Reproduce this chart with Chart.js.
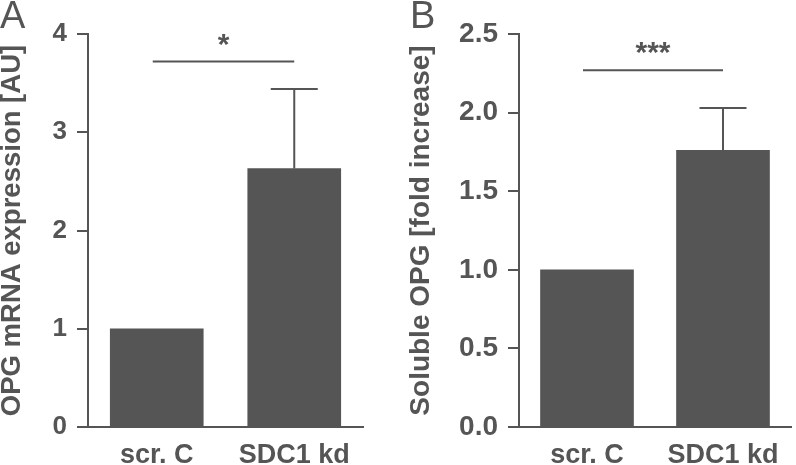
<!DOCTYPE html>
<html>
<head>
<meta charset="utf-8">
<script src="https://cdn.jsdelivr.net/npm/chart.js@4"></script>
<style>
  html, body { margin: 0; padding: 0; background: #fff; }
  #wrap { position: relative; width: 796px; height: 465px; }
  #chartA { position: absolute; left: 0; top: 0; }
  #chartB { position: absolute; left: 400px; top: 0; }
</style>
</head>
<body>
<div id="wrap">
  <canvas id="chartA" width="400" height="465"></canvas>
  <canvas id="chartB" width="396" height="465"></canvas>
</div>
<script>
const categories = ["scr. C", "SDC1 kd"];

// panel A: OPG mRNA
const mrnaMeans = [1.0, 2.63];
const mrnaErrors = [0, 0.81];
const mrnaTicks = [0, 1, 2, 3, 4];
const mrnaSig = { y: 3.72, label: "*" };

// panel B: soluble OPG
const solubleMeans = [1.0, 1.76];
const solubleErrors = [0, 0.27];
const solubleTicks = [0, 0.5, 1.0, 1.5, 2.0, 2.5];
const solubleSig = { y: 2.27, label: "***" };

const ink = "#555555";
const family = "'Liberation Sans', Arial, sans-serif";

const annotations = {
    id: "annotations",
    afterDatasetsDraw(chart, args, opts) {
        const { ctx, scales: { y } } = chart;
        const bars = chart.getDatasetMeta(0).data;
        ctx.save();
        ctx.strokeStyle = ink;
        ctx.fillStyle = ink;
        ctx.lineWidth = 2;

        // error bars (upper only)
        opts.errors.forEach((err, i) => {
            if (!err) return;
            const x = bars[i].x;
            const top = y.getPixelForValue(opts.means[i] + err);
            const base = y.getPixelForValue(opts.means[i]);
            ctx.beginPath();
            ctx.moveTo(x, base);
            ctx.lineTo(x, top);
            ctx.moveTo(x - 23.5, top);
            ctx.lineTo(x + 23.5, top);
            ctx.stroke();
        });

        // significance line + stars
        const sy = y.getPixelForValue(opts.sig.y);
        const x0 = bars[0].x - 4, x1 = bars[1].x;
        ctx.beginPath();
        ctx.moveTo(x0, sy);
        ctx.lineTo(x1, sy);
        ctx.stroke();
        ctx.font = "bold 30px " + family;
        ctx.textAlign = "center";
        ctx.textBaseline = "alphabetic";
        ctx.fillText(opts.sig.label, (x0 + x1) / 2, sy - 8);

        // panel letter
        ctx.font = "38px " + family;
        ctx.textAlign = "left";
        ctx.fillText(opts.letter, opts.letterX, 28);
        ctx.restore();
    }
};

function makeChart(id, means, errors, ticks, sig, opt) {
    return new Chart(document.getElementById(id), {
        type: "bar",
        data: {
            labels: categories,
            datasets: [{
                data: means,
                backgroundColor: ink,
                borderWidth: 0,
                barThickness: 93
            }]
        },
        options: {
            responsive: false,
            animation: false,
            layout: { padding: { top: 34, right: opt.right, bottom: 0, left: 0 } },
            plugins: {
                legend: { display: false },
                tooltip: { enabled: false },
                annotations: { means, errors, sig, letter: opt.letter, letterX: opt.letterX }
            },
            scales: {
                x: {
                    grid: { drawOnChartArea: false, drawTicks: false },
                    border: { color: ink, width: 2 },
                    ticks: {
                        color: ink,
                        padding: 12,
                        font: { family, size: 27, weight: "bold" }
                    },
                    afterFit(scale) { scale.height = 38; }
                },
                y: {
                    min: 0,
                    max: ticks[ticks.length - 1],
                    afterBuildTicks(scale) { scale.ticks = ticks.map(v => ({ value: v })); },
                    grid: { drawOnChartArea: false, color: ink, lineWidth: 2, tickLength: 11 },
                    border: { color: ink, width: 2 },
                    ticks: {
                        color: ink,
                        padding: 10,
                        font: { family, size: opt.tickSize, weight: "bold" },
                        callback: v => opt.decimals ? v.toFixed(1) : String(v)
                    },
                    title: {
                        display: true,
                        text: opt.title,
                        color: ink,
                        padding: { top: opt.titlePad, bottom: 0 },
                        font: { family, size: opt.titleSize, weight: "bold", lineHeight: 1 }
                    },
                    afterFit(scale) { scale.width = opt.axisLeft; }
                }
            }
        },
        plugins: [annotations]
    });
}

makeChart("chartA", mrnaMeans, mrnaErrors, mrnaTicks, mrnaSig, {
    right: 37, axisLeft: 88, decimals: false, tickSize: 26, title: "OPG mRNA expression [AU]",
    titleSize: 27.5, titlePad: -1, letter: "A", letterX: 0
});
makeChart("chartB", solubleMeans, solubleErrors, solubleTicks, solubleSig, {
    right: 5, axisLeft: 119, decimals: true, tickSize: 28, title: "Soluble OPG [fold increase]",
    titleSize: 28, titlePad: 7, letter: "B", letterX: 10
});
</script>
</body>
</html>
